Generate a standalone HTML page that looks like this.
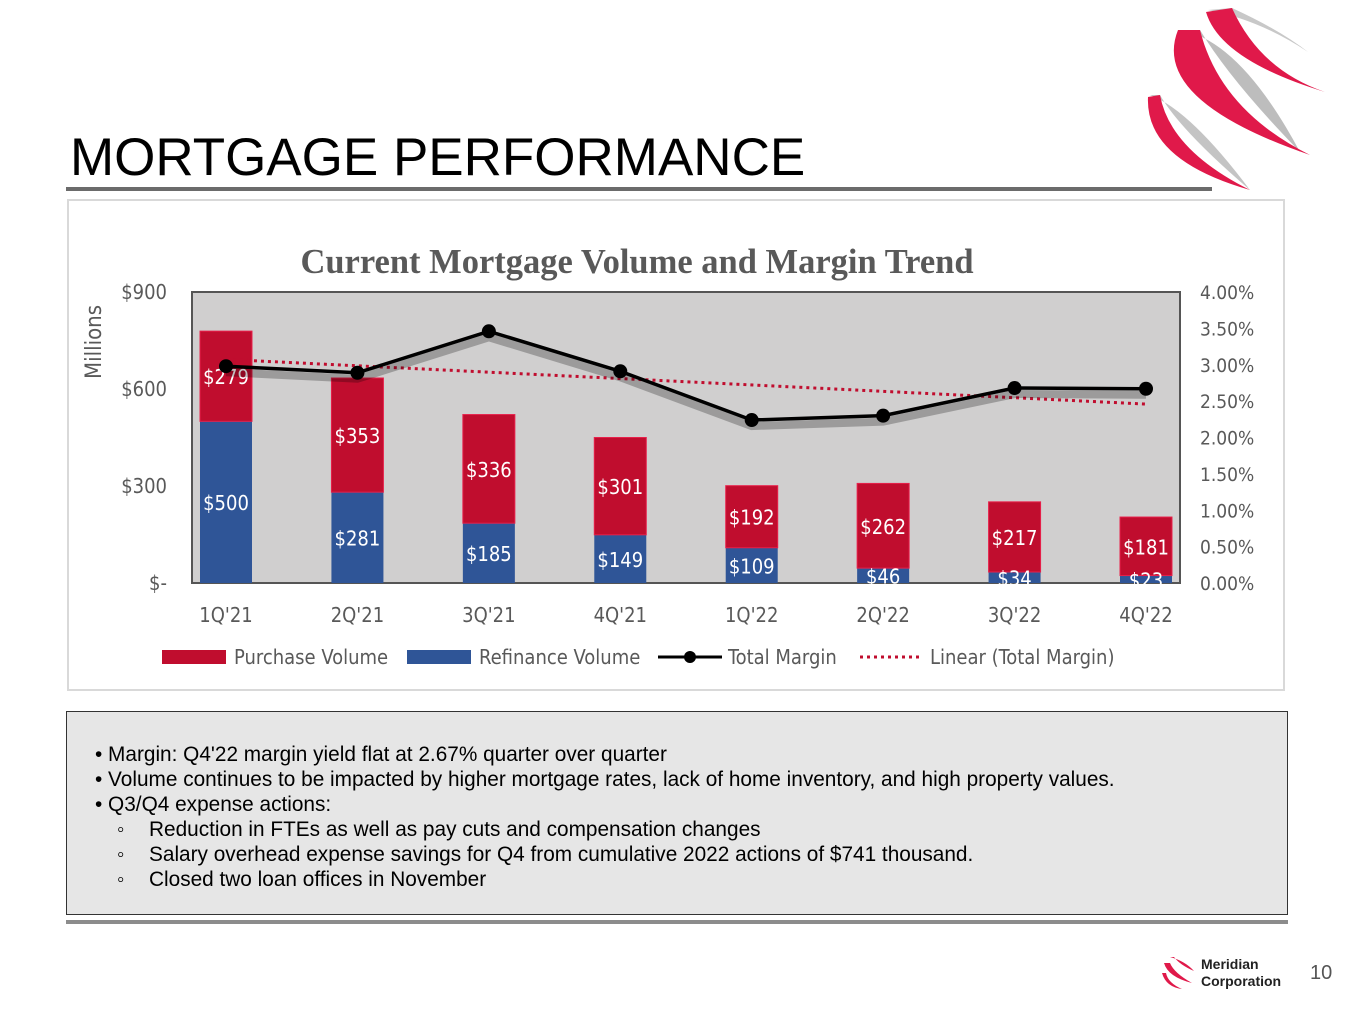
<!DOCTYPE html>
<html><head><meta charset="utf-8"><style>
body{margin:0;width:1365px;height:1024px;background:#fff;font-family:"Liberation Sans",sans-serif;position:relative;overflow:hidden}
.abs{position:absolute}
</style></head><body>
<div class="abs" style="left:70px;top:127px;font-size:53px;color:#000">MORTGAGE PERFORMANCE</div>
<div class="abs" style="left:66px;top:187px;width:1146px;height:4px;background:#6b6b6b"></div>
<svg class="abs" style="left:1140px;top:0" width="225" height="200" viewBox="0 0 225 200">
<path d="M68 10 Q120 20 168 52 Q140 30 92 8Z" fill="#c8c8c8"/>
<path d="M66 12 Q80 60 185 92 Q120 70 92 8Z" fill="#e0194a"/>
<path d="M40 30 Q100 40 160 152 Q90 80 60 30Z" fill="#bdbdbd"/>
<path d="M38 30 Q10 100 170 155 Q80 110 60 30Z" fill="#e0194a"/>
<path d="M10 95 Q50 110 110 190 Q40 130 20 95Z" fill="#c4c4c4"/>
<path d="M8 97 Q5 160 110 190 Q30 150 20 95Z" fill="#e0194a"/>
</svg>
<div class="abs" style="left:67px;top:199px;width:1218px;height:492px;border:2px solid #d9d9d9;box-sizing:border-box"></div>
<svg class="abs" id="chart" style="left:0;top:0" width="1365" height="700"></svg>
<div class="abs" style="left:66px;top:711px;width:1222px;height:204px;border:1px solid #333;background:#e6e6e6;box-sizing:border-box;font-size:20.8px;line-height:25px;color:#000;padding:30px 0 0 28px">
<div>• Margin: Q4'22 margin yield flat at 2.67% quarter over quarter</div>
<div>• Volume continues to be impacted by higher mortgage rates, lack of home inventory, and high property values.</div>
<div>• Q3/Q4 expense actions:</div>
<div><span style="display:inline-block;width:54px;padding-left:22px;box-sizing:border-box">◦</span>Reduction in FTEs as well as pay cuts and compensation changes</div>
<div><span style="display:inline-block;width:54px;padding-left:22px;box-sizing:border-box">◦</span>Salary overhead expense savings for Q4 from cumulative 2022 actions of $741 thousand.</div>
<div><span style="display:inline-block;width:54px;padding-left:22px;box-sizing:border-box">◦</span>Closed two loan offices in November</div>
</div>
<div class="abs" style="left:66px;top:920px;width:1222px;height:4px;background:#8c8c8c"></div>
<svg class="abs" style="left:1160px;top:955px" width="36" height="36" viewBox="0 0 36 36">
<path d="M10 2 Q25 6 34 16 Q20 10 14 2Z" fill="#e0194a"/><path d="M4 8 Q8 22 32 28 Q14 18 10 8Z" fill="#e0194a"/><path d="M2 18 Q6 32 22 34 Q8 28 6 18Z" fill="#e0194a"/>
</svg>
<div class="abs" style="left:1201px;top:956px;font-size:14px;font-weight:bold;line-height:17px;color:#222">Meridian<br>Corporation</div>
<div class="abs" style="left:1310px;top:962px;font-size:20px;color:#555">10</div>
<script>
const categories=["1Q'21","2Q'21","3Q'21","4Q'21","1Q'22","2Q'22","3Q'22","4Q'22"];
const refinance=[500,281,185,149,109,46,34,23];
const purchase=[279,353,336,301,192,262,217,181];
const margin=[2.98,2.89,3.46,2.91,2.24,2.30,2.68,2.67];
const leftTicks=["$-","$300","$600","$900"];
const leftTickVals=[0,300,600,900];
const rightTickVals=[0,0.5,1,1.5,2,2.5,3,3.5,4];
const svg=document.getElementById('chart');const NS='http://www.w3.org/2000/svg';
const X0=192,X1=1180,Y0=583,Y1=292;
const yL=v=>Y0-(v/900)*(Y0-Y1);const yR=v=>Y0-(v/4)*(Y0-Y1);
const step=(1146-226)/(categories.length-1);const xC=i=>226+step*i;
function mk(t,a,txt){const e=document.createElementNS(NS,t);for(const k in a)e.setAttribute(k,a[k]);if(txt!=null)e.textContent=txt;svg.appendChild(e);return e;}
const FC='"DejaVu Sans Condensed","Liberation Sans",sans-serif';
let e=mk('text',{x:637,y:273,'text-anchor':'middle','font-family':'"Liberation Serif",serif','font-weight':'bold','font-size':34.5,fill:'#595959'},'Current Mortgage Volume and Margin Trend');

e=mk('rect',{x:X0,y:Y1,width:X1-X0,height:Y0-Y1,fill:'#d0cfcf',stroke:'#555','stroke-width':2});

leftTickVals.forEach((v,i)=>{const t=mk('text',{x:167,y:yL(v)+7,'text-anchor':'end','font-family':FC,'font-size':20,fill:'#595959'},leftTicks[i]);});
rightTickVals.forEach(v=>{const t=mk('text',{x:1200,y:yR(v)+7,'font-family':FC,'font-size':19,fill:'#595959'},v.toFixed(2)+'%');});
e=mk('text',{x:0,y:0,transform:'translate(101,342) rotate(-90)','text-anchor':'middle','font-family':FC,'font-size':22,fill:'#595959'},'Millions');

const BW=52;
categories.forEach((c,i)=>{const x=xC(i)-BW/2;
 let r=mk('rect',{x:x,y:yL(refinance[i]),width:BW,height:Y0-yL(refinance[i]),fill:'#2f5597'});
 const top=yL(refinance[i]+purchase[i]);
 r=mk('rect',{x:x,y:top,width:BW,height:yL(refinance[i])-top,fill:'#c00d2e',stroke:'#e8204a','stroke-width':1});
 let t=mk('text',{x:xC(i),y:(yL(refinance[i])+Y0)/2+8,'text-anchor':'middle','font-family':FC,'font-size':20,fill:'#fff'},'$'+refinance[i]);
 t=mk('text',{x:xC(i),y:(top+yL(refinance[i]))/2+8,'text-anchor':'middle','font-family':FC,'font-size':20,fill:'#fff'},'$'+purchase[i]);
 t=mk('text',{x:xC(i),y:622,'text-anchor':'middle','font-family':FC,'font-size':20,fill:'#595959'},c);
});
const n=margin.length;const mx=(n-1)/2;const my=margin.reduce((a,b)=>a+b)/n;
let num=0,den=0;margin.forEach((v,i)=>{num+=(i-mx)*(v-my);den+=(i-mx)*(i-mx);});const sl=num/den;
e=mk('line',{x1:xC(0),y1:yR(my-sl*mx),x2:xC(n-1),y2:yR(my+sl*mx),stroke:'#c00d2e','stroke-width':3,'stroke-dasharray':'3 4'});

e=mk('polyline',{points:margin.map((v,i)=>xC(i)+','+(yR(v)+6)).join(' '),fill:'none',stroke:'rgba(0,0,0,0.25)','stroke-width':8});

e=mk('polyline',{points:margin.map((v,i)=>xC(i)+','+yR(v)).join(' '),fill:'none',stroke:'#000','stroke-width':3.5});

margin.forEach((v,i)=>{const c=mk('circle',{cx:xC(i),cy:yR(v),r:7,fill:'#000'});});
const lg=[['rect','#c00d2e',162,'Purchase Volume'],['rect','#2f5597',407,'Refinance Volume'],['line','#000',658,'Total Margin'],['dot','#c00d2e',860,'Linear (Total Margin)']];
lg.forEach(l=>{let s;
 if(l[0]==='rect'){s=mk('rect',{x:l[2],y:650,width:64,height:14,fill:l[1]});}
 else if(l[0]==='line'){s=mk('line',{x1:l[2],y1:657,x2:l[2]+64,y2:657,stroke:'#000','stroke-width':3});mk('circle',{cx:l[2]+32,cy:657,r:6,fill:'#000'});}
 else {s=mk('line',{x1:l[2],y1:657,x2:l[2]+62,y2:657,stroke:l[1],'stroke-width':3,'stroke-dasharray':'3 4'});}
 
 const t=mk('text',{x:l[2]+(l[0]==='rect'?72:70),y:664,'font-family':FC,'font-size':20,fill:'#595959'},l[3]);
});
</script>
</body></html>
